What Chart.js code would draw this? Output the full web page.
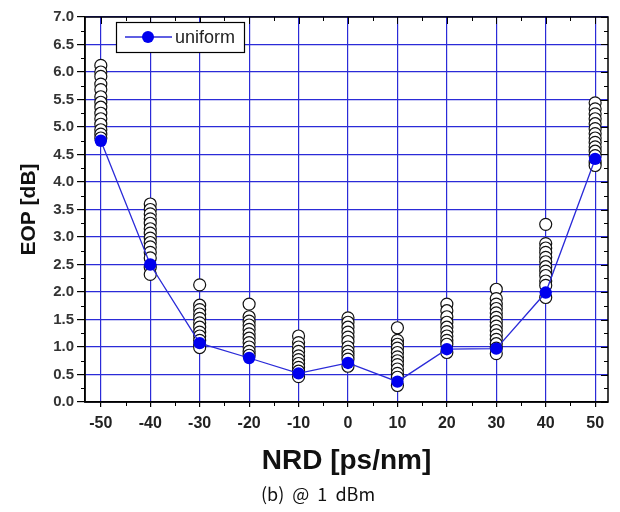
<!DOCTYPE html>
<html>
<head>
<meta charset="utf-8">
<script src="https://cdn.jsdelivr.net/npm/chart.js@4.4.1/dist/chart.umd.min.js"></script>
<style>
  html, body { margin: 0; padding: 0; background: #fff; }
  #wrap { width: 620px; height: 512px; }
</style>
</head>
<body>
<div id="wrap"><canvas id="eopChart" width="620" height="512"></canvas></div>
<script>
// ---- data ----
const nrd = [-50, -40, -30, -20, -10, 0, 10, 20, 30, 40, 50];
const uniform = [4.75, 2.5, 1.07, 0.8, 0.52, 0.71, 0.37, 0.96, 0.97, 1.99, 4.42];
const eopTicks = [0, 0.5, 1, 1.5, 2, 2.5, 3, 3.5, 4, 4.5, 5, 5.5, 6, 6.5, 7];

// open circles (other dispersion maps) at each NRD value
const spreadM50 = [6.12, 6.0, 5.92, 5.78, 5.68, 5.55, 5.45, 5.36, 5.25, 5.15, 5.05, 4.95, 4.87, 4.8];
const spreadM40 = [3.6, 3.5, 3.42, 3.33, 3.25, 3.15, 3.07, 2.98, 2.9, 2.82, 2.72, 2.62, 2.45, 2.32];
const spreadM30 = [2.13, 1.76, 1.68, 1.6, 1.52, 1.44, 1.36, 1.27, 1.2, 1.12, 1.04, 0.99];
const spreadM20 = [1.78, 1.55, 1.47, 1.4, 1.32, 1.24, 1.16, 1.08, 1.0, 0.92, 0.85];
const spreadM10 = [1.2, 1.08, 1.0, 0.92, 0.84, 0.77, 0.7, 0.63, 0.56, 0.46];
const spread0 = [1.53, 1.45, 1.36, 1.27, 1.18, 1.1, 1.0, 0.92, 0.85, 0.78, 0.65];
const spreadP10 = [1.35, 1.12, 1.05, 0.98, 0.9, 0.82, 0.75, 0.68, 0.6, 0.52, 0.45, 0.3];
const spreadP20 = [1.78, 1.66, 1.55, 1.45, 1.36, 1.28, 1.2, 1.12, 1.05, 0.9];
const spreadP30 = [2.05, 1.88, 1.78, 1.7, 1.62, 1.54, 1.46, 1.38, 1.3, 1.22, 1.14, 1.06, 0.98, 0.88];
const spreadP40 = [3.23, 2.88, 2.8, 2.72, 2.63, 2.55, 2.46, 2.38, 2.3, 2.2, 2.12, 1.9];
const spreadP50 = [5.44, 5.33, 5.24, 5.15, 5.06, 4.97, 4.88, 4.8, 4.72, 4.64, 4.56, 4.48, 4.36, 4.3];

const spreads = [spreadM50, spreadM40, spreadM30, spreadM20, spreadM10, spread0,
  spreadP10, spreadP20, spreadP30, spreadP40, spreadP50];

// build point lists
const openPoints = [];
spreads.forEach((list, i) => {
  list.forEach(v => openPoints.push({ x: nrd[i], y: v }));
});
const uniformPoints = nrd.map((x, i) => ({ x: x, y: uniform[i] }));

const BLUE_GRID = "#2b2bd8";

// =================== FRAME, MINOR TICKS, LEGEND, CAPTION ===================
const framePlugin = {
  id: "frame",
  afterDraw(chart) {
    const { ctx, chartArea: a, scales } = chart;
    const xs = scales.x, ys = scales.y;
    ctx.save();
    ctx.strokeStyle = "#000";
    ctx.lineWidth = 1.5;
    ctx.strokeRect(a.left, a.top, a.right - a.left, a.bottom - a.top);

    ctx.lineWidth = 1;
    ctx.beginPath();
    // x ticks: minor outward at bottom, all inward at top
    for (let v = -50; v <= 50; v += 5) {
      const px = Math.round(xs.getPixelForValue(v)) + 0.5;
      const major = v % 10 === 0;
      if (!major) {
        ctx.moveTo(px, a.bottom);
        ctx.lineTo(px, a.bottom + 4);
      }
      ctx.moveTo(px, a.top);
      ctx.lineTo(px, a.top + (major ? 7 : 4));
    }
    // y ticks: minor outward at left, all inward at right
    for (let v = 0; v <= 7.001; v += 0.25) {
      const py = Math.round(ys.getPixelForValue(v)) + 0.5;
      const major = Math.abs(v * 2 - Math.round(v * 2)) < 1e-6;
      if (!major) {
        ctx.moveTo(a.left, py);
        ctx.lineTo(a.left - 4, py);
      }
      ctx.moveTo(a.right, py);
      ctx.lineTo(a.right - (major ? 7 : 4), py);
    }
    ctx.stroke();

    // legend box
    const lx = 116, ly = 22, lw = 128, lh = 30;
    ctx.fillStyle = "#fff";
    ctx.fillRect(lx, ly, lw, lh);
    ctx.lineWidth = 1.2;
    ctx.strokeStyle = "#000";
    ctx.strokeRect(lx + 0.5, ly + 0.5, lw, lh);
    const cy = ly + lh / 2;
    ctx.strokeStyle = "#2a2ad8";
    ctx.lineWidth = 1.3;
    ctx.beginPath();
    ctx.moveTo(lx + 9, cy);
    ctx.lineTo(lx + 56, cy);
    ctx.stroke();
    ctx.fillStyle = "#0000ee";
    ctx.beginPath();
    ctx.arc(lx + 32, cy, 6, 0, Math.PI * 2);
    ctx.fill();
    ctx.fillStyle = "#222";
    ctx.font = "18px Arial, 'Liberation Sans'";
    ctx.textBaseline = "middle";
    ctx.textAlign = "left";
    ctx.fillText("uniform", lx + 59, cy + 1);

    // caption
    ctx.fillStyle = "#111";
    ctx.font = "18px 'Noto Sans CJK KR', 'DejaVu Sans'";
    ctx.textAlign = "center";
    ctx.fillText("(b)  @  1  dBm", 318, 494);
    ctx.restore();
  },
};

// =================== CHART ===================
const ctx = document.getElementById("eopChart");

new Chart(ctx, {
  type: "scatter",
  data: {
    datasets: [
      {
        label: "uniform",
        data: uniformPoints,
        showLine: true,
        borderColor: "#2a2ad8",
        borderWidth: 1.3,
        pointRadius: 6.2,
        pointBackgroundColor: "#0000ee",
        pointBorderColor: "#0000ee",
        pointBorderWidth: 0,
        order: 0,
      },
      {
        label: "others",
        data: openPoints,
        pointRadius: 6,
        pointBackgroundColor: "#fff",
        pointBorderColor: "#111",
        pointBorderWidth: 1.2,
        order: 1,
      },
    ],
  },
  options: {
    responsive: false,
    animation: false,
    layout: { padding: { left: 0, right: 12, top: 17, bottom: 0 } },
    plugins: {
      legend: { display: false },
      tooltip: { enabled: false },
    },
    scales: {
      x: {
        type: "linear",
        min: -53.2,
        max: 52.6,
        afterBuildTicks: (s) => { s.ticks = nrd.map(v => ({ value: v })); },
        afterFit: (s) => { s.height = 110; },
        grid: { color: BLUE_GRID, lineWidth: 1.2, tickLength: 5, tickColor: "#000" },
        border: { color: "#000", width: 1.5 },
        ticks: {
          color: "#222",
          padding: 7,
          maxRotation: 0,
          font: { family: "Arial, 'Liberation Sans'", size: 16, weight: "bold" },
        },
        title: {
          display: true,
          text: "NRD [ps/nm]",
          color: "#111",
          font: { family: "Arial, 'Liberation Sans'", size: 28, weight: "bold" },
          padding: { top: 0, bottom: 34 },
        },
      },
      y: {
        type: "linear",
        min: 0,
        max: 7,
        afterBuildTicks: (s) => { s.ticks = eopTicks.map(v => ({ value: v })); },
        afterFit: (s) => { s.width = 85; },
        grid: { color: BLUE_GRID, lineWidth: 1.2, tickLength: 8, tickColor: "#000" },
        border: { color: "#000", width: 1.5 },
        ticks: {
          color: "#333",
          padding: 3,
          callback: (v) => Number(v).toFixed(1),
          font: { family: "Arial, 'Liberation Sans'", size: 15, weight: "bold" },
        },
        title: {
          display: true,
          text: "EOP [dB]",
          color: "#111",
          font: { family: "Arial, 'Liberation Sans'", size: 21, weight: "bold" },
          padding: { top: 17, bottom: 0 },
        },
      },
    },
  },
  plugins: [framePlugin],
});
</script>
</body>
</html>
